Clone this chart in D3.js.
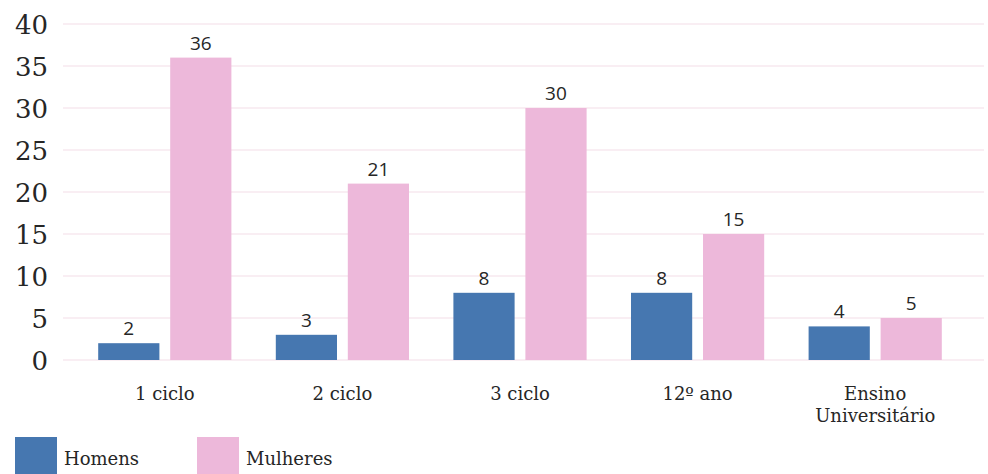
<!DOCTYPE html>
<html>
<head>
<meta charset="utf-8">
<script src="https://cdn.jsdelivr.net/npm/d3@7"></script>
<style>
  html, body { margin: 0; padding: 0; background: #fff; }
  svg { display: block; }
</style>
</head>
<body>
<svg id="chart" width="988" height="474"></svg>
<script>
// Education level by sex
const categories = [["1 ciclo"], ["2 ciclo"], ["3 ciclo"], ["12º ano"], ["Ensino", "Universitário"]];
const seriesNames = ["Homens", "Mulheres"];
const homens = [2, 3, 8, 8, 4];
const mulheres = [36, 21, 30, 15, 5];
const yTicks = [0, 5, 10, 15, 20, 25, 30, 35, 40];
const colors = ["#4677b0", "#edb8da"];

const svg = d3.select("#chart");
const keys = categories.map(c => c.join(" "));
const rows = keys.map((k, i) => ({ key: k, values: [homens[i], mulheres[i]] }));

const y = d3.scaleLinear().domain([0, 40]).range([360, 24]);
const x0 = d3.scaleBand().domain(keys).range([76, 964]).paddingInner(0.25).paddingOuter(0.125);
const x1 = d3.scaleBand().domain(seriesNames).range([0, x0.bandwidth()]).paddingInner(0.15);

// gridlines
svg.append("g")
  .selectAll("line")
  .data(yTicks)
  .join("line")
  .attr("x1", 63).attr("x2", 984)
  .attr("y1", d => y(d)).attr("y2", d => y(d))
  .attr("stroke", "#f7e8ef").attr("stroke-width", 1.5);

// y axis labels
const yAxis = d3.axisLeft(y).tickValues(yTicks).tickSize(0).tickPadding(0);
svg.append("g")
  .attr("transform", "translate(48,0)")
  .call(yAxis)
  .call(g => g.select(".domain").remove())
  .selectAll("text")
  .attr("font-family", "'DejaVu Serif', serif")
  .attr("font-size", 26)
  .attr("fill", "#262626")
  .attr("dy", "0.36em");

// bars
const groups = svg.append("g")
  .selectAll("g")
  .data(rows)
  .join("g")
  .attr("transform", d => `translate(${x0(d.key)},0)`);

groups.selectAll("rect")
  .data(d => d.values.map((v, i) => ({ name: seriesNames[i], value: v, i })))
  .join("rect")
  .attr("x", d => x1(d.name))
  .attr("width", x1.bandwidth())
  .attr("y", d => y(d.value))
  .attr("height", d => y(0) - y(d.value))
  .attr("fill", d => colors[d.i]);

// value labels
groups.selectAll("text")
  .data(d => d.values.map((v, i) => ({ name: seriesNames[i], value: v })))
  .join("text")
  .attr("x", d => x1(d.name) + x1.bandwidth() / 2)
  .attr("y", d => y(d.value) - 8)
  .attr("text-anchor", "middle")
  .attr("font-family", "'Open Sans', sans-serif")
  .attr("font-size", 19)
  .attr("font-weight", 500)
  .attr("fill", "#262626")
  .text(d => d.value);

// category labels
const xAxis = svg.append("g");
categories.forEach((lines, i) => {
  const t = xAxis.append("text")
    .attr("x", x0(keys[i]) + x0.bandwidth() / 2)
    .attr("y", 400)
    .attr("text-anchor", "middle")
    .attr("font-family", "'DejaVu Serif', serif")
    .attr("font-size", 18)
    .attr("fill", "#262626");
  lines.forEach((l, j) => {
    t.append("tspan")
      .attr("x", x0(keys[i]) + x0.bandwidth() / 2)
      .attr("dy", j === 0 ? 0 : 22)
      .text(l);
  });
});

// legend
const legendX = [15, 197];
const legend = svg.append("g")
  .selectAll("g")
  .data(seriesNames)
  .join("g")
  .attr("transform", (d, i) => `translate(${legendX[i]},437)`);
legend.append("rect")
  .attr("width", 42).attr("height", 40)
  .attr("fill", (d, i) => colors[i]);
legend.append("text")
  .attr("x", 49).attr("y", 28)
  .attr("font-family", "'DejaVu Serif', serif")
  .attr("font-size", 18)
  .attr("fill", "#262626")
  .text(d => d);
</script>
</body>
</html>
